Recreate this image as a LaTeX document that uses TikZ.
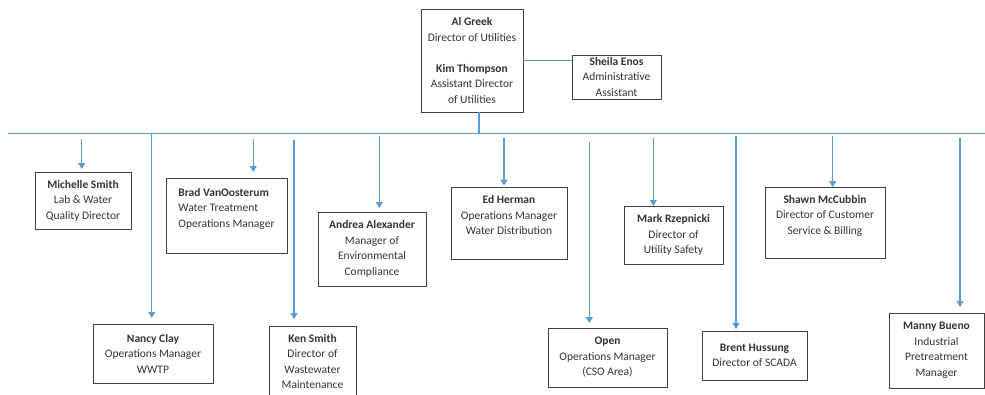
\documentclass[tikz,border=0pt]{standalone}
\usepackage{fontspec}
\setmainfont{Carlito}
\usetikzlibrary{arrows.meta}
\definecolor{linkblue}{HTML}{5B9BD5}
\newcommand{\orgfont}{\fontsize{11.5}{15.5}\selectfont}
\tikzset{
  staff/.style={draw=black!75, line width=0.9pt, anchor=north west, inner sep=0pt, outer sep=0pt, align=center, font=\orgfont, text=black!80},
  link/.style={draw=linkblue, line width=1.3pt},
  feed/.style={link, -{Triangle[width=7pt,length=6pt]}},
}

\begin{document}
\begin{tikzpicture}[x=1pt,y=-1pt]
\useasboundingbox (0,0) rectangle (985,394);
% top of the chart
\node[staff, minimum width=102, minimum height=103] (al) at (421,9) {\textbf{Al Greek}\\Director of Utilities\\[15.5pt]\textbf{Kim Thompson}\\Assistant Director\\of Utilities};
\node[staff, minimum width=89, minimum height=44] (sheila) at (572,55) {\textbf{Sheila Enos}\\Administrative\\Assistant};
\draw[link] (al.east) -- (al.east -| sheila.west);
\coordinate (busL) at (8,133.3);
\coordinate (busR) at (985,133.3);
\coordinate (hub) at (479,133.3);
\draw[link] (busL) -- (busR);
\draw[link] (hub |- al.south) -- (hub);
% first row
\node[staff, minimum width=96, minimum height=57] (michelle) at (35,172) {\textbf{Michelle Smith}\\Lab \& Water\\Quality Director};
\node[staff, minimum width=121, minimum height=75, align=left] (brad) at (166,178) {\textbf{Brad VanOosterum}\\Water Treatment\\Operations Manager\\ \mbox{}};
\node[staff, minimum width=108, minimum height=74] (andrea) at (318,212) {\textbf{Andrea Alexander}\\Manager of\\Environmental\\Compliance};
\node[staff, minimum width=116, minimum height=72] (ed) at (451,187) {\textbf{Ed Herman}\\Operations Manager\\Water Distribution\\ \mbox{}};
\node[staff, minimum width=99, minimum height=58] (mark) at (624,206) {\textbf{Mark Rzepnicki}\\Director of\\Utility Safety};
\node[staff, minimum width=120, minimum height=71] (shawn) at (765,187) {\textbf{Shawn McCubbin}\\Director of Customer\\Service \& Billing\\ \mbox{}};
% second row
\node[staff, minimum width=120, minimum height=59] (nancy) at (93,324) {\textbf{Nancy Clay}\\Operations Manager\\WWTP};
\node[staff, minimum width=87, minimum height=71] (ken) at (269,326) {\textbf{Ken Smith}\\Director of\\Wastewater\\Maintenance};
\node[staff, minimum width=119, minimum height=59] (open) at (548,328) {\textbf{Open}\\Operations Manager\\(CSO Area)};
\node[staff, minimum width=105, minimum height=49] (brent) at (702,331) {\textbf{Brent Hussung}\\Director of SCADA};
\node[staff, minimum width=95, minimum height=75] (manny) at (889,313) {\textbf{Manny Bueno}\\Industrial\\Pretreatment\\Manager};
% drops from the bus
\coordinate (tmichelle) at (81.7,139);
\coordinate (tnancy) at (151.7,134);
\coordinate (tbrad) at (253.3,139);
\coordinate (tken) at (294,140);
\coordinate (tandrea) at (379.3,136);
\coordinate (ted) at (504,138);
\coordinate (topen) at (589.3,142);
\coordinate (tmark) at (653.3,138);
\coordinate (tbrent) at (736,136);
\coordinate (tshawn) at (832.7,136);
\coordinate (tmanny) at (960,138);
\draw[feed, shorten >=3pt] (tmichelle) -- (tmichelle |- michelle.north);
\draw[feed, shorten >=6pt] (tnancy) -- (tnancy |- nancy.north);
\draw[feed, shorten >=6pt] (tbrad) -- (tbrad |- brad.north);
\draw[feed, shorten >=7pt] (tken) -- (tken |- ken.north);
\draw[feed, shorten >=4pt] (tandrea) -- (tandrea |- andrea.north);
\draw[feed, shorten >=1.5pt] (ted) -- (ted |- ed.north);
\draw[feed, shorten >=5pt] (topen) -- (topen |- open.north);
\draw[feed] (tmark) -- (tmark |- mark.north);
\draw[feed, shorten >=2pt] (tbrent) -- (tbrent |- brent.north);
\draw[feed] (tshawn) -- (tshawn |- shawn.north);
\draw[feed, shorten >=6pt] (tmanny) -- (tmanny |- manny.north);
\end{tikzpicture}
\end{document}
